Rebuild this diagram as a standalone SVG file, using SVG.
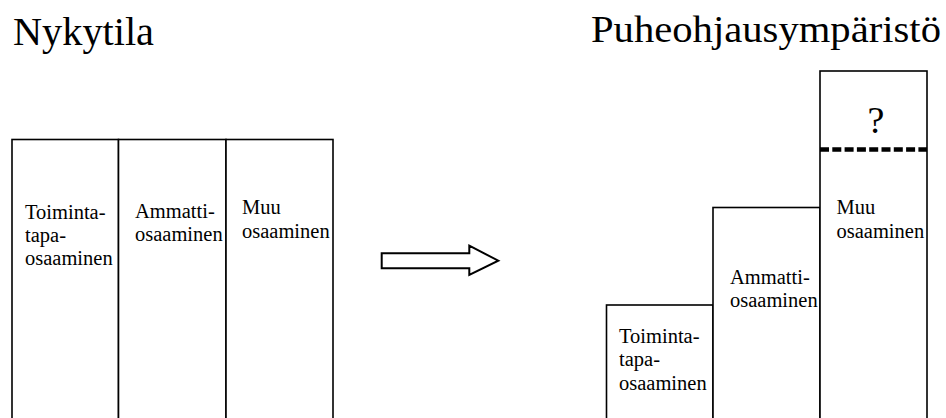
<svg xmlns="http://www.w3.org/2000/svg" width="946" height="418" viewBox="0 0 946 418">
  <style>
    .box { fill: #fff; stroke: #000; stroke-width: 1.6; }
    text { font-family: 'Liberation Serif', 'Times New Roman', serif; fill: #000; }
    .lbl { font-size: 20.5px; }
  </style>
  <rect width="946" height="418" fill="#fff"/>

  <!-- headings -->
  <text x="13" y="45" font-size="41" textLength="141" lengthAdjust="spacingAndGlyphs">Nykytila</text>
  <text x="591" y="42" font-size="38" textLength="350" lengthAdjust="spacingAndGlyphs">Puheohjausympäristö</text>

  <!-- current state: three equal columns -->
  <g id="nyky-toimintatapa">
    <rect class="box" x="12" y="139.5" width="106.5" height="290"/>
    <text class="lbl"><tspan x="25" y="219">Toiminta-</tspan><tspan x="25" y="242">tapa-</tspan><tspan x="25" y="265">osaaminen</tspan></text>
  </g>
  <g id="nyky-ammatti">
    <rect class="box" x="118.5" y="139.5" width="107.5" height="290"/>
    <text class="lbl"><tspan x="135" y="218">Ammatti-</tspan><tspan x="135" y="241">osaaminen</tspan></text>
  </g>
  <g id="nyky-muu">
    <rect class="box" x="226" y="139.5" width="107" height="290"/>
    <text class="lbl"><tspan x="242" y="214">Muu</tspan><tspan x="242" y="238">osaaminen</tspan></text>
  </g>

  <!-- transition arrow -->
  <g id="connectors">
    <path d="M381.7,253.3 H469.3 V245.7 L498.3,260.7 L469.3,275 V268.3 H381.7 Z" fill="#fff" stroke="#000" stroke-width="2"/>
  </g>

  <!-- target state: rising columns -->
  <g id="puhe-toimintatapa">
    <rect class="box" x="606.5" y="305" width="106.5" height="125"/>
    <text class="lbl"><tspan x="619" y="343">Toiminta-</tspan><tspan x="619" y="366">tapa-</tspan><tspan x="619" y="390">osaaminen</tspan></text>
  </g>
  <g id="puhe-ammatti">
    <rect class="box" x="713" y="207.5" width="107" height="222"/>
    <text class="lbl"><tspan x="730" y="284">Ammatti-</tspan><tspan x="730" y="307">osaaminen</tspan></text>
  </g>
  <g id="puhe-muu">
    <rect class="box" x="820" y="71" width="107" height="359"/>
    <line x1="820" y1="149.5" x2="927" y2="149.5" stroke="#000" stroke-width="4.5" stroke-dasharray="9,3.3"/>
    <text x="876" y="133" font-size="38" text-anchor="middle">?</text>
    <text class="lbl"><tspan x="836.5" y="214">Muu</tspan><tspan x="836.5" y="238">osaaminen</tspan></text>
  </g>
</svg>
